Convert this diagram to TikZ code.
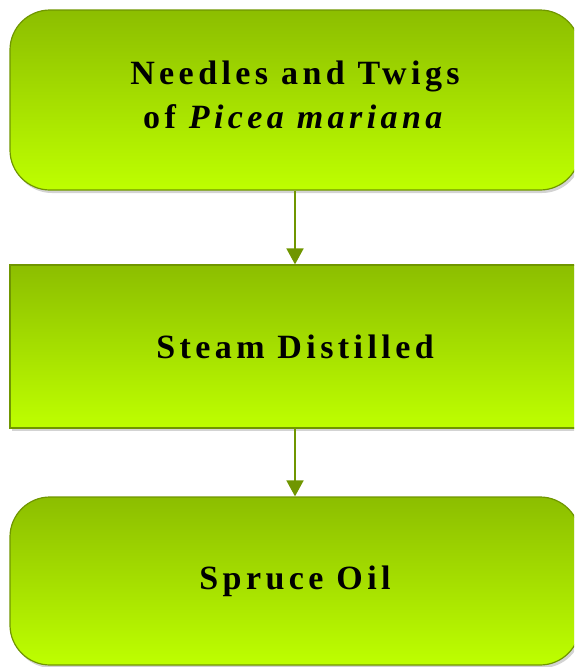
\documentclass[tikz,border=0pt]{standalone}
\usepackage{fontspec}
\setmainfont{Liberation Serif}
\usetikzlibrary{arrows.meta,shadows}

\definecolor{leafTop}{RGB}{140,190,0}
\definecolor{leafBot}{RGB}{190,255,0}
\definecolor{leafLine}{RGB}{112,150,0}

\tikzset{
  label font/.style={font=\fontsize{34}{44}\selectfont\bfseries\addfontfeature{LetterSpace=13}},
  stage/.style={draw=leafLine, line width=1.2pt, top color=leafTop, bottom color=leafBot,
    minimum width=570pt, align=center, label font,
    drop shadow={shadow xshift=2pt, shadow yshift=-3pt, opacity=0.35}},
  flow/.style={draw=leafLine, line width=1.8pt, -{Triangle[length=16pt,width=17pt]}}
}

\begin{document}
\begin{tikzpicture}[x=1pt,y=-1pt]

  \useasboundingbox (0,0) rectangle (574,667);
  \clip (0,0) rectangle (574,667);

  % Stages
  \node[stage, rounded corners=40pt, minimum height=180pt] (twigs) at (295,100) {};
  \node[label font, align=center] (twigsText) at (295,95)
    {Needles and Twigs\\of \textit{Picea mariana}};
  \node[stage, minimum height=163pt] (steam) at (295,346.5) {Steam Distilled};
  \node[stage, rounded corners=40pt, minimum height=168pt] (oil) at (295,581) {Spruce Oil};

  % Arrows
  \draw[flow] (twigs) -- (steam);
  \draw[flow] (steam) -- (oil);

\end{tikzpicture}
\end{document}
